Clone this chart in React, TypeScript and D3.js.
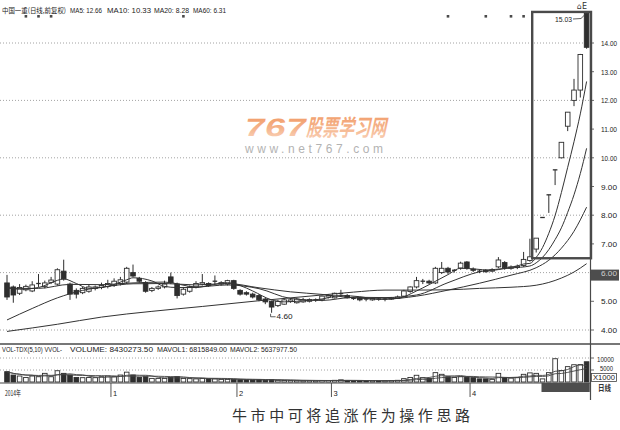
import React from "react";
import * as d3 from "d3";

// Daily candles, Dec 2014 – Apr 2015 (forward-adjusted prices)
const opens = [
  5.64, 5.5, 5.28, 5.4, 5.36, 5.6, 5.52, 5.66, 5.6, 6.05,
  5.6, 5.38, 5.3, 5.35, 5.45, 5.48, 5.52, 5.55, 5.62, 5.67,
  6.0, 5.8, 5.65, 5.38, 5.45, 5.5, 5.85, 5.6, 5.25, 5.35,
  5.5, 5.6, 5.62, 5.68, 5.6, 5.6, 5.72, 5.38, 5.3, 5.25,
  5.2, 5.08, 5.0, 4.85, 4.9, 5.0, 4.95, 4.98, 5.0, 5.02,
  5.05, 5.15, 5.12, 5.25, 5.2, 5.1, 5.12, 5.08, 5.05, 5.08,
  5.05, 5.08, 5.1, 5.18, 5.34, 5.5, 5.68, 5.7, 5.64, 6.0,
  6.15, 6.05, 6.16, 6.37, 6.12, 6.05, 6.08, 6.05, 6.2, 6.35,
  6.15, 6.18, 6.25, 6.42, 6.82, 7.92, 8.71, 9.58, 10.0, 11.1,
  12.0, 12.36, 15.03,
];
const highs = [
  5.92, 5.55, 5.6, 5.58, 5.7, 5.95, 5.72, 5.85, 6.15, 6.45,
  5.65, 5.45, 5.5, 5.6, 5.55, 5.65, 5.75, 5.8, 5.85, 6.2,
  6.28, 5.85, 5.7, 5.5, 5.55, 5.72, 6.0, 5.65, 5.5, 5.55,
  5.7, 5.95, 5.66, 5.9, 5.7, 5.75, 5.75, 5.42, 5.35, 5.3,
  5.25, 5.12, 5.02, 5.05, 5.1, 5.12, 5.12, 5.12, 5.1, 5.1,
  5.2, 5.25, 5.3, 5.4, 5.25, 5.15, 5.15, 5.12, 5.12, 5.12,
  5.12, 5.15, 5.2, 5.4, 5.52, 5.85, 5.78, 5.75, 6.2, 6.37,
  6.2, 6.12, 6.38, 6.4, 6.18, 6.1, 6.12, 6.15, 6.54, 6.4,
  6.25, 6.28, 6.72, 7.18, 7.2, 7.92, 8.71, 9.58, 10.54, 11.59,
  12.75, 13.62, 15.03,
];
const lows = [
  5.05, 4.95, 5.22, 5.35, 5.32, 5.5, 5.45, 5.6, 5.55, 5.72,
  5.05, 5.1, 5.25, 5.3, 5.38, 5.42, 5.45, 5.5, 5.55, 5.6,
  5.85, 5.65, 5.3, 5.32, 5.4, 5.45, 5.6, 5.1, 5.2, 5.3,
  5.45, 5.55, 5.5, 5.6, 5.55, 5.55, 5.4, 5.2, 5.2, 5.1,
  5.0, 4.9, 4.6, 4.8, 4.88, 4.95, 4.92, 4.95, 4.96, 4.98,
  5.0, 5.1, 5.1, 5.15, 5.1, 5.05, 5.0, 5.0, 5.02, 5.02,
  5.0, 5.05, 5.08, 5.15, 5.3, 5.45, 5.6, 5.6, 5.6, 5.95,
  5.95, 6.0, 6.1, 6.1, 6.02, 5.98, 6.0, 6.02, 6.15, 6.1,
  6.1, 6.12, 6.2, 6.38, 6.7, 7.92, 8.08, 9.05, 9.98, 10.93,
  11.8, 12.1, 13.8,
];
const closes = [
  5.15, 5.22, 5.48, 5.52, 5.57, 5.62, 5.64, 5.74, 6.1, 5.78,
  5.25, 5.25, 5.45, 5.5, 5.5, 5.55, 5.62, 5.7, 5.75, 6.15,
  5.88, 5.7, 5.35, 5.45, 5.5, 5.6, 5.65, 5.2, 5.42, 5.5,
  5.62, 5.65, 5.55, 5.7, 5.65, 5.72, 5.45, 5.25, 5.25, 5.15,
  5.05, 4.98, 4.8, 5.0, 5.05, 5.05, 5.08, 5.05, 5.06, 5.05,
  5.18, 5.2, 5.28, 5.27, 5.12, 5.08, 5.05, 5.05, 5.1, 5.06,
  5.08, 5.12, 5.15, 5.36, 5.5, 5.72, 5.7, 5.64, 6.15, 6.15,
  6.02, 6.08, 6.33, 6.16, 6.08, 6.02, 6.03, 6.1, 6.44, 6.17,
  6.2, 6.22, 6.46, 6.55, 7.2, 7.92, 8.71, 9.58, 10.54, 11.59,
  12.36, 13.6, 13.85,
];
// Daily volume, shares
const volumes = [
  4300000, 2900000, 2500000, 1900000, 2500000, 2200000, 3600000, 2200000, 4700000, 3600000,
  2900000, 1900000, 1800000, 1900000, 1800000, 2200000, 2500000, 2200000, 2900000, 4100000,
  2900000, 1900000, 2200000, 1500000, 1500000, 1500000, 1900000, 2200000, 1500000, 1400000,
  1300000, 1500000, 1300000, 1300000, 1100000, 1100000, 1100000, 950000, 900000, 850000,
  900000, 800000, 950000, 700000, 650000, 600000, 550000, 500000, 550000, 500000,
  600000, 650000, 700000, 900000, 650000, 550000, 500000, 450000, 500000, 450000,
  500000, 550000, 700000, 1400000, 1900000, 2800000, 1800000, 1500000, 3900000, 3200000,
  2200000, 1900000, 2200000, 1900000, 1800000, 1300000, 1300000, 1100000, 3600000, 1900000,
  1600000, 1800000, 3200000, 3800000, 3600000, 1300000, 3900000, 9700530, 4800000, 6400000,
  7200000, 7248971.5, 8430273.5,
];

// Moving averages as [candle index, value]
const ma5Points: [number, number][] = [
  [0, 5.5], [2, 5.42], [5, 5.48], [8, 5.73], [9, 5.78], [11, 5.62], [13, 5.45], [16, 5.52],
  [19, 5.75], [20, 5.82], [23, 5.71], [25, 5.52], [27, 5.48], [30, 5.48], [32, 5.55], [35, 5.65],
  [37, 5.55], [39, 5.36], [42, 5.05], [44, 4.98], [46, 5.0], [50, 5.08], [53, 5.2], [56, 5.16],
  [59, 5.07], [62, 5.1], [65, 5.36], [67, 5.58], [70, 5.93], [72, 6.15], [74, 6.13], [77, 6.08],
  [79, 6.15], [81, 6.23], [82, 6.3], [83, 6.32], [84, 6.53], [85, 6.87], [86, 7.37], [87, 7.99],
  [88, 8.79], [89, 9.67], [90, 10.56], [91, 11.53], [92, 12.66],
];
const ma10Points: [number, number][] = [
  [0, 5.45], [5, 5.45], [10, 5.59], [15, 5.58], [20, 5.64], [25, 5.67], [30, 5.5], [35, 5.57],
  [40, 5.44], [45, 5.1], [50, 5.03], [55, 5.14], [60, 5.13], [65, 5.22], [70, 5.65], [75, 6.03],
  [80, 6.16], [83, 6.23], [84, 6.34], [85, 6.53], [86, 6.8], [87, 7.15], [88, 7.56], [89, 8.1],
  [90, 8.71], [91, 9.45], [92, 10.33],
];
const ma20Points: [number, number][] = [
  [0, 4.35], [4, 4.75], [8, 5.12], [12, 5.38], [16, 5.52], [20, 5.61], [25, 5.62], [30, 5.57],
  [35, 5.62], [40, 5.47], [45, 5.33], [50, 5.24], [55, 5.12], [60, 5.08], [65, 5.18], [70, 5.39],
  [75, 5.63], [80, 5.91], [84, 6.17], [86, 6.43], [88, 6.85], [90, 7.44], [92, 8.28],
];
const ma60Points: [number, number][] = [
  [0, 3.95], [8, 4.2], [15, 4.45], [23, 4.65], [31, 4.82], [40, 5.02], [45, 5.12], [50, 5.22],
  [55, 5.32], [60, 5.39], [65, 5.39], [70, 5.4], [75, 5.45], [80, 5.49], [84, 5.56], [88, 5.81],
  [90, 6.02], [92, 6.31],
];

const priceTicks = [14, 13, 12, 11, 10, 9, 8, 7, 6, 5, 4];
const priceGrid = [14, 12, 10, 8, 6, 4];
const highlightedTick = 6;
const volTicks = [10000, 5000];
const monthStarts = [17, 37, 52, 74];
const monthLabels = ["1", "2", "3", "4"];
const markerIdx = [3, 5, 7, 28, 70, 76, 80, 82];
const breakoutFrom = 84;
const boxFloor = 6.5;

const W = 620;
const H = 430;
const STEP = 6.3;
const AXIS_X = 590.5;
const INK = "#2e2e2e";
const LATIN = "'Liberation Sans', Arial, sans-serif";
const CJK = "'Noto Sans CJK SC', 'Noto Sans', sans-serif";

const n = closes.length;
const x = d3.scaleLinear().domain([0, n - 1]).range([7, 7 + STEP * (n - 1)]);
const y = d3.scaleLinear().domain([4, 14]).range([330, 43]);
const yv = d3.scaleLinear().domain([0, 10000]).range([382, 358]); // thousands of shares

const maLine = d3
  .line<[number, number]>()
  .x((d) => x(d[0]))
  .y((d) => y(d[1]))
  .curve(d3.curveMonotoneX);

const movingVol = (p: number) =>
  volumes.map((_, i) => (d3.mean(volumes.slice(Math.max(0, i - p + 1), i + 1)) as number) / 1000);
const volLine = d3
  .line<number>()
  .x((_, i) => x(i))
  .y((d) => yv(d))
  .curve(d3.curveMonotoneX);

const last = <T,>(a: T[]) => a[a.length - 1];
const mavol1 = d3.mean(volumes.slice(-5)) as number;
const mavol2 = d3.mean(volumes.slice(-10)) as number;
const maxHigh = d3.max(highs) as number;
const maxIdx = highs.indexOf(maxHigh);
const minLow = d3.min(lows) as number;
const minIdx = lows.indexOf(minLow);

export default function App() {
  const bw = 4.6;
  const boxL = x(breakoutFrom) - 4;
  const boxR = x(n - 1) + 4.4;
  const boxT = y(maxHigh) - 1.5;
  const boxB = y(boxFloor);

  return (
    <svg
      width={W}
      height={H}
      viewBox={`0 0 ${W} ${H}`}
      style={{ position: "absolute", left: 0, top: 0, background: "#fff" }}
    >
      <defs>
        <linearGradient id="wmFill" x1="0" y1="0" x2="0" y2="1">
          <stop offset="0" stopColor="#f0955f" />
          <stop offset="0.55" stopColor="#f5b48c" />
          <stop offset="1" stopColor="#fad8c2" />
        </linearGradient>
      </defs>
      <rect width={W} height={H} fill="#fff" />

      {/* header */}
      <g fontFamily={LATIN} fontSize={7} fill="#222">
        <text x={2} y={12.5} fontFamily={CJK} fontSize={7} textLength={64} lengthAdjust="spacingAndGlyphs">
          中国一重(日线,前复权)
        </text>
        <text x={70} y={12.5} textLength={32} lengthAdjust="spacingAndGlyphs">{`MA5: ${last(ma5Points)[1].toFixed(2)}`}</text>
        <text x={107} y={12.5} textLength={44} lengthAdjust="spacingAndGlyphs">{`MA10: ${last(ma10Points)[1].toFixed(2)}`}</text>
        <text x={154} y={12.5} textLength={35} lengthAdjust="spacingAndGlyphs">{`MA20: ${last(ma20Points)[1].toFixed(2)}`}</text>
        <text x={193} y={12.5} textLength={33} lengthAdjust="spacingAndGlyphs">{`MA60: ${last(ma60Points)[1].toFixed(2)}`}</text>
      </g>
      {markerIdx.map((i) => (
        <rect key={i} x={x(i) - 1.3} y={15} width={2.6} height={2.6} fill="#4a4a4a" />
      ))}
      <text x={577} y={9} fontFamily="'DejaVu Sans', sans-serif" fontSize={8} fill="#333">⌂E</text>

      {/* price grid */}
      {priceGrid.map((v) => (
        <line key={v} x1={0} x2={AXIS_X} y1={y(v)} y2={y(v)} stroke="#8c8c8c" strokeWidth={0.8} strokeDasharray="1 2" />
      ))}

      {/* watermark */}
      <g transform="translate(243,136) skewX(-12)">
        <text x={0} y={0} fontFamily={LATIN} fontWeight={700} fontSize={25} fill="url(#wmFill)" textLength={62} lengthAdjust="spacingAndGlyphs">767</text>
        <text x={63} y={0} fontFamily={CJK} fontWeight={700} fontSize={23} fill="url(#wmFill)" textLength={80} lengthAdjust="spacingAndGlyphs">股票学习网</text>
      </g>
      <text x={245} y={153} fontFamily={LATIN} fontSize={12} fill="#b3b3b3" textLength={138} lengthAdjust="spacing">
        www.net767.com
      </text>

      {/* candles */}
      {closes.map((c, i) => {
        const o = opens[i];
        const cx = x(i);
        const up = c >= o;
        const top = y(Math.max(o, c));
        const bot = y(Math.min(o, c));
        const flat = bot - top < 1;
        return (
          <g key={i}>
            <line x1={cx} x2={cx} y1={y(highs[i])} y2={y(lows[i])} stroke={INK} strokeWidth={1} />
            {flat ? (
              <line x1={cx - bw / 2} x2={cx + bw / 2} y1={top} y2={top} stroke={INK} strokeWidth={1.3} />
            ) : (
              <rect x={cx - bw / 2} y={top} width={bw} height={bot - top} fill={up ? "#fff" : INK} stroke={INK} strokeWidth={0.9} />
            )}
          </g>
        );
      })}

      {/* moving averages */}
      {[ma5Points, ma10Points, ma20Points, ma60Points].map((pts, k) => (
        <path key={k} d={maLine(pts) as string} fill="none" stroke="#333" strokeWidth={1} />
      ))}

      {/* breakout frame */}
      <rect x={boxL} y={boxT} width={boxR - boxL} height={boxB - boxT} fill="none" stroke="#4a4a4a" strokeWidth={2.4} />

      {/* high / low callouts */}
      <g fontFamily={LATIN} fontSize={7.5} fill="#222">
        <text x={555} y={22} textLength={17} lengthAdjust="spacingAndGlyphs">{maxHigh.toFixed(2)}</text>
        <path
          d={`M573,19 L581,18.5 L${x(maxIdx) - 2},${y(maxHigh) + 1.5}`}
          fill="none"
          stroke="#333"
          strokeWidth={0.8}
        />
        <path d={`M${x(minIdx) - 1},${y(minLow) + 1} L${x(minIdx) - 1},${y(minLow) + 4} L${x(minIdx) + 4},${y(minLow) + 4}`} fill="none" stroke="#333" strokeWidth={0.8} />
        <text x={x(minIdx) + 5} y={y(minLow) + 6.5} textLength={16} lengthAdjust="spacingAndGlyphs">{minLow.toFixed(2)}</text>
      </g>

      {/* right price axis */}
      <line x1={AXIS_X} x2={AXIS_X} y1={boxT} y2={400} stroke="#4a4a4a" strokeWidth={1.2} />
      {priceTicks.map((v) => {
        const hl = v === highlightedTick;
        return (
          <g key={v}>
            <line x1={AXIS_X} x2={AXIS_X + 3.5} y1={y(v)} y2={y(v)} stroke="#444" strokeWidth={0.8} />
            {hl && <rect x={591} y={y(v) - 3} width={28} height={11} fill="#4d4d4d" />}
            <text x={601} y={y(v) + 3} fontFamily={LATIN} fontSize={7.5} fill={hl ? "#cfcfcf" : "#222"} textLength={16} lengthAdjust="spacingAndGlyphs">
              {v.toFixed(2)}
            </text>
          </g>
        );
      })}

      {/* panel separator */}
      <line x1={0} x2={W} y1={344} y2={344} stroke="#4a4a4a" strokeWidth={1.4} />

      {/* volume panel */}
      <g fontFamily={LATIN} fontSize={6.5} fill="#222">
        <text x={2} y={351.5} textLength={60} lengthAdjust="spacingAndGlyphs">VOL-TDX(5,10) VVOL-</text>
        <text x={70} y={351.5} textLength={83} lengthAdjust="spacingAndGlyphs">{`VOLUME: ${last(volumes).toFixed(2)}`}</text>
        <text x={157} y={351.5} textLength={70} lengthAdjust="spacingAndGlyphs">{`MAVOL1: ${mavol1.toFixed(2)}`}</text>
        <text x={230} y={351.5} textLength={67} lengthAdjust="spacingAndGlyphs">{`MAVOL2: ${mavol2.toFixed(2)}`}</text>
      </g>
      {volTicks.map((v) => (
        <g key={v}>
          <line x1={0} x2={AXIS_X} y1={yv(v)} y2={yv(v)} stroke="#8c8c8c" strokeWidth={0.8} strokeDasharray="1 2" />
          <line x1={AXIS_X} x2={AXIS_X + 3.5} y1={yv(v)} y2={yv(v)} stroke="#444" strokeWidth={0.8} />
          <text
            x={v >= 10000 ? 597 : 600}
            y={yv(v) + (v >= 10000 ? 3.5 : 1.2)}
            fontFamily={LATIN}
            fontSize={7}
            fill="#222"
            textLength={v >= 10000 ? 17 : 13}
            lengthAdjust="spacingAndGlyphs"
          >
            {v}
          </text>
        </g>
      ))}
      <rect x={591.5} y={373.5} width={25} height={8} fill="#fff" stroke="#444" strokeWidth={0.8} />
      <text x={593} y={380.3} fontFamily={LATIN} fontSize={7} fill="#222" textLength={22} lengthAdjust="spacingAndGlyphs">X1000</text>

      {volumes.map((v, i) => {
        const up = closes[i] >= opens[i];
        const top = yv(v / 1000);
        return (
          <rect key={i} x={x(i) - bw / 2} y={top} width={bw} height={yv(0) - top} fill={up ? "#fff" : INK} stroke={INK} strokeWidth={0.9} />
        );
      })}
      <path d={volLine(movingVol(5)) as string} fill="none" stroke="#444" strokeWidth={0.9} />
      <path d={volLine(movingVol(10)) as string} fill="none" stroke="#444" strokeWidth={0.9} />

      {/* time axis */}
      <line x1={0} x2={AXIS_X} y1={383} y2={383} stroke="#444" strokeWidth={1} />
      <rect x={x(breakoutFrom + 1) - 1} y={383} width={x(n - 1) + STEP / 2 - x(breakoutFrom + 1) + 1} height={9} fill="#4d4d4d" />
      <text x={5} y={396} fontFamily={CJK} fontSize={7.5} fill="#222" textLength={16} lengthAdjust="spacingAndGlyphs">2014年</text>
      {monthStarts.map((idx, k) => {
        const tx = x(idx) - STEP / 2;
        return (
          <g key={idx}>
            <line x1={tx} x2={tx} y1={383} y2={397} stroke="#444" strokeWidth={0.9} />
            <text x={tx + 2} y={396} fontFamily={LATIN} fontSize={7.5} fill="#222">{monthLabels[k]}</text>
          </g>
        );
      })}
      <text x={598} y={391} fontFamily={CJK} fontSize={8} fontWeight={700} fill="#333" textLength={13} lengthAdjust="spacingAndGlyphs">日线</text>

      {/* caption */}
      <text x={232} y={421} fontFamily={CJK} fontSize={15} fill="#333" textLength={238} lengthAdjust="spacing">
        牛市中可将追涨作为操作思路
      </text>
    </svg>
  );
}
